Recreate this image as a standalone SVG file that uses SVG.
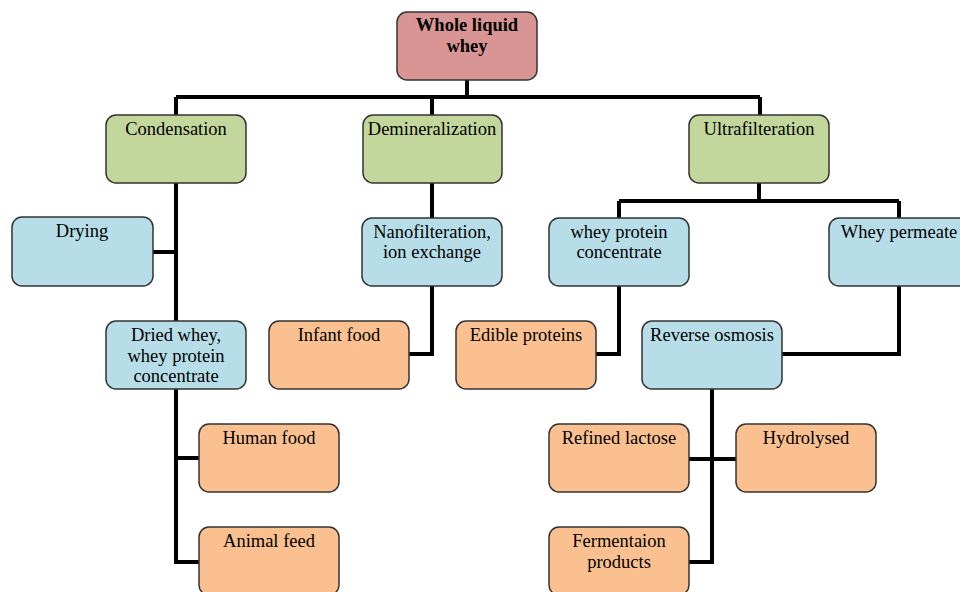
<svg xmlns="http://www.w3.org/2000/svg" width="960" height="592" viewBox="0 0 960 592">
<style>
.b{stroke:#333;stroke-width:1.5}
.root{fill:#d99594}.g{fill:#c3d69b}.bl{fill:#b7dee8}.o{fill:#fac08f}
text{font-family:"Liberation Serif","Times New Roman",serif;font-size:18.5px;fill:#000;text-anchor:middle}
.bold{font-weight:bold}
#connectors path{fill:none;stroke:#000;stroke-width:4}
</style>
<rect width="960" height="592" fill="#fff"/>
<g id="connectors">
<path d="M467 80V97M176 97H760M176 97V115M432 97V115M760 97V115"/>
<path d="M176 183V321M153 252H176"/>
<path d="M432 183V218M432 286V354H409"/>
<path d="M759 183V201M619 201H899M619 201V218M899 201V218"/>
<path d="M619 286V354H596M899 286V354H782"/>
<path d="M176 389V562H199M176 458H199"/>
<path d="M712 389V562H689M689 459H736"/>
</g>
<g id="n-root"><rect class="b root" x="397" y="12" width="140" height="68" rx="10"/><text class="bold" x="467" y="31">Whole liquid</text><text class="bold" x="467" y="52">whey</text></g>
<g id="n-condensation"><rect class="b g" x="106" y="115" width="140" height="68" rx="10"/><text x="176" y="135">Condensation</text></g>
<g id="n-demineralization"><rect class="b g" x="363" y="115" width="139" height="68" rx="10"/><text x="432" y="135">Demineralization</text></g>
<g id="n-ultrafilteration"><rect class="b g" x="689" y="115" width="140" height="68" rx="10"/><text x="759" y="135">Ultrafilteration</text></g>
<g id="n-drying"><rect class="b bl" x="12" y="217" width="141" height="69" rx="10"/><text x="82" y="237">Drying</text></g>
<g id="n-nano"><rect class="b bl" x="362" y="218" width="140" height="68" rx="10"/><text x="432" y="238">Nanofilteration,</text><text x="432" y="258">ion exchange</text></g>
<g id="n-wpc"><rect class="b bl" x="549" y="218" width="140" height="68" rx="10"/><text x="619" y="238">whey protein</text><text x="619" y="258">concentrate</text></g>
<g id="n-permeate"><rect class="b bl" x="829" y="218" width="140" height="68" rx="10"/><text x="899" y="238">Whey permeate</text></g>
<g id="n-dried"><rect class="b bl" x="106" y="321" width="140" height="68" rx="10"/><text x="176" y="341">Dried whey,</text><text x="176" y="362">whey protein</text><text x="176" y="382">concentrate</text></g>
<g id="n-infant"><rect class="b o" x="269" y="321" width="140" height="68" rx="10"/><text x="339" y="341">Infant food</text></g>
<g id="n-edible"><rect class="b o" x="456" y="321" width="140" height="68" rx="10"/><text x="526" y="341">Edible proteins</text></g>
<g id="n-ro"><rect class="b bl" x="642" y="321" width="140" height="68" rx="10"/><text x="712" y="341">Reverse osmosis</text></g>
<g id="n-human"><rect class="b o" x="199" y="424" width="140" height="68" rx="10"/><text x="269" y="444">Human food</text></g>
<g id="n-lactose"><rect class="b o" x="549" y="424" width="140" height="68" rx="10"/><text x="619" y="444">Refined lactose</text></g>
<g id="n-hydrolysed"><rect class="b o" x="736" y="424" width="140" height="68" rx="10"/><text x="806" y="444">Hydrolysed</text></g>
<g id="n-animal"><rect class="b o" x="199" y="527" width="140" height="68" rx="10"/><text x="269" y="547">Animal feed</text></g>
<g id="n-ferment"><rect class="b o" x="549" y="527" width="140" height="68" rx="10"/><text x="619" y="547">Fermentaion</text><text x="619" y="568">products</text></g>
</svg>
